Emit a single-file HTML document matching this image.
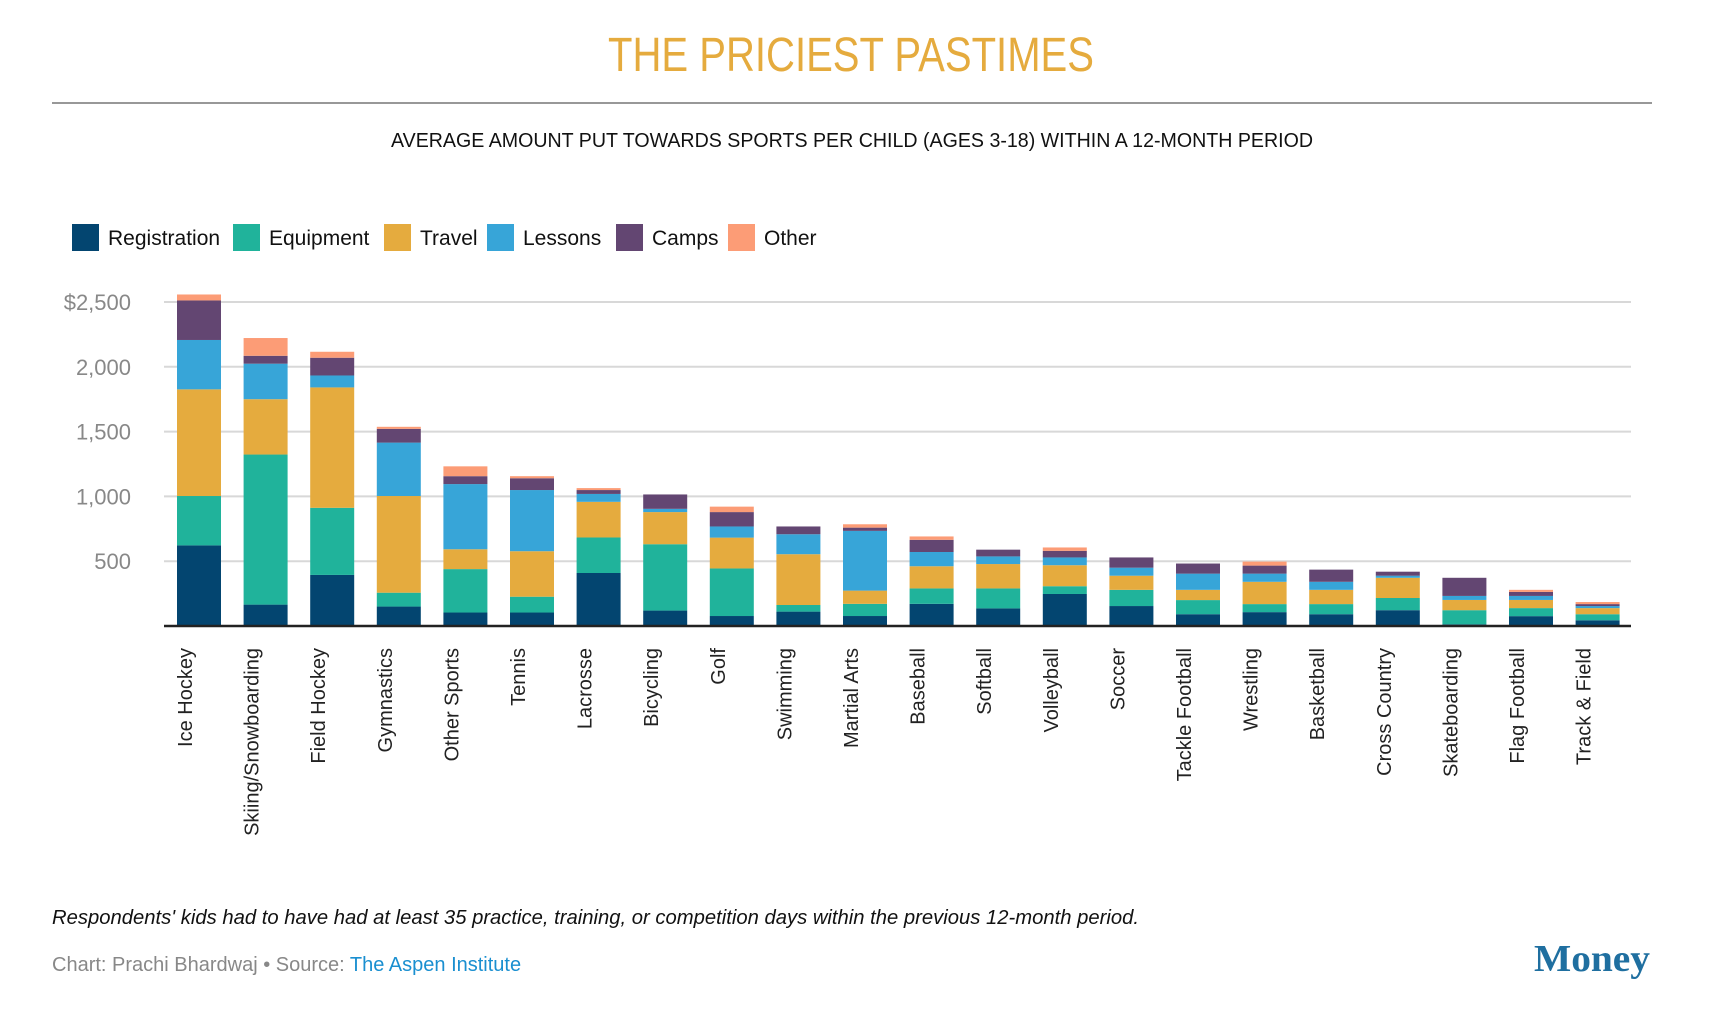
<!DOCTYPE html>
<html><head><meta charset="utf-8"><style>
body{margin:0;background:#fff;width:1736px;height:1004px;overflow:hidden;font-family:"Liberation Sans",sans-serif}
</style></head><body>
<svg width="1736" height="1004" viewBox="0 0 1736 1004" xmlns="http://www.w3.org/2000/svg">
<text x="851" y="71" text-anchor="middle" font-size="48" fill="#e5ab3e" textLength="486" lengthAdjust="spacingAndGlyphs">THE PRICIEST PASTIMES</text>
<line x1="52" y1="103" x2="1652" y2="103" stroke="#777" stroke-width="1.5"/>
<text x="852" y="147" text-anchor="middle" font-size="20" fill="#111" textLength="922" lengthAdjust="spacingAndGlyphs">AVERAGE AMOUNT PUT TOWARDS SPORTS PER CHILD (AGES 3-18) WITHIN A 12-MONTH PERIOD</text>
<g id="legend"></g>
<g id="grid"></g>
<g id="bars"></g>
<line x1="164" y1="626" x2="1631" y2="626" stroke="#222" stroke-width="2.5"/>
<g id="xlabels"></g>
<text x="52" y="924" font-size="20" font-style="italic" fill="#111" textLength="1087" lengthAdjust="spacingAndGlyphs">Respondents' kids had to have had at least 35 practice, training, or competition days within the previous 12-month period.</text>
<text x="52" y="971" font-size="20" fill="#888">Chart: Prachi Bhardwaj • Source: <tspan fill="#1a8fd0">The Aspen Institute</tspan></text>
<text x="1650" y="971" text-anchor="end" font-family="Liberation Serif,serif" font-weight="bold" font-size="38" fill="#1f6fa0" textLength="116" lengthAdjust="spacingAndGlyphs">Money</text>
</svg>
<script>
const categories=["Ice Hockey","Skiing/Snowboarding","Field Hockey","Gymnastics","Other Sports","Tennis","Lacrosse","Bicycling","Golf","Swimming","Martial Arts","Baseball","Softball","Volleyball","Soccer","Tackle Football","Wrestling","Basketball","Cross Country","Skateboarding","Flag Football","Track & Field"];
const registration=[622,165,394,150,104,104,409,119,77,111,77,171,136,247,154,91,107,91,122,13,76,44];
const equipment=[381,1158,518,107,335,122,274,512,367,51,94,119,154,60,125,109,62,78,94,109,62,47];
const travel=[823,427,929,746,153,351,275,248,238,392,102,171,188,162,109,79,172,110,156,79,63,47];
const lessons=[381,274,92,412,503,472,61,25,86,154,461,110,59,60,62,125,63,62,16,31,31,16];
const camps=[305,61,137,106,61,91,30,111,111,60,25,94,52,51,79,78,62,94,31,140,31,15];
const other=[46,137,46,16,76,16,15,0,42,0,26,26,0,26,0,0,31,0,0,0,16,16];
const seriesNames=["Registration","Equipment","Travel","Lessons","Camps","Other"];
const seriesColors=["#034570","#20b39b","#e5ab3e","#37a5d8","#634672","#fc9c76"];
const yTicks=[500,1000,1500,2000,2500];
const yTickLabels=["500","1,000","1,500","2,000","$2,500"];
const series=[registration,equipment,travel,lessons,camps,other];
const NS="http://www.w3.org/2000/svg";
const base=626,pxPer=64.8/500,x0=199,step=66.6,bw=44;
const y=v=>base-v*pxPer;
const xc=i=>x0+i*step;
function mk(tag,attrs,parent){const e=document.createElementNS(NS,tag);for(const k in attrs)e.setAttribute(k,attrs[k]);parent.appendChild(e);return e;}
const grid=document.getElementById('grid');
yTicks.forEach((t,i)=>{
 const l=mk('line',{x1:164,x2:1631,y1:y(t),y2:y(t),stroke:'#d8d8d8','stroke-width':2},grid);
 
 
 const tx=mk('text',{x:131,y:y(t)+8,'text-anchor':'end','font-size':22,fill:'#888'},grid);
 tx.textContent=yTickLabels[i];
 
 
});
const bars=document.getElementById('bars');
categories.forEach((c,i)=>{
 let acc=0;
 series.forEach((s,k)=>{
  const v=s[i];if(v<=0){return;}
  const r=mk('rect',{x:xc(i)-bw/2,y:y(acc+v),width:bw,height:v*pxPer,fill:seriesColors[k]},bars);
  
  
  acc+=v;
 });
 const t=mk('text',{transform:`translate(${xc(i)-7},648) rotate(-90)`,'text-anchor':'end','font-size':20,fill:'#222'},document.getElementById('xlabels'));
 t.textContent=c;
 
 
});
const lg=document.getElementById('legend');
const lx=[72,233,384,487,616,728];
seriesNames.forEach((n,k)=>{
 const r=mk('rect',{x:lx[k],y:224,width:27,height:27,fill:seriesColors[k]},lg);
 
 
 const t=mk('text',{x:lx[k]+36,y:245,'font-size':21,fill:'#111'},lg);
 t.textContent=n;
 
 
});
</script>
</body></html>
